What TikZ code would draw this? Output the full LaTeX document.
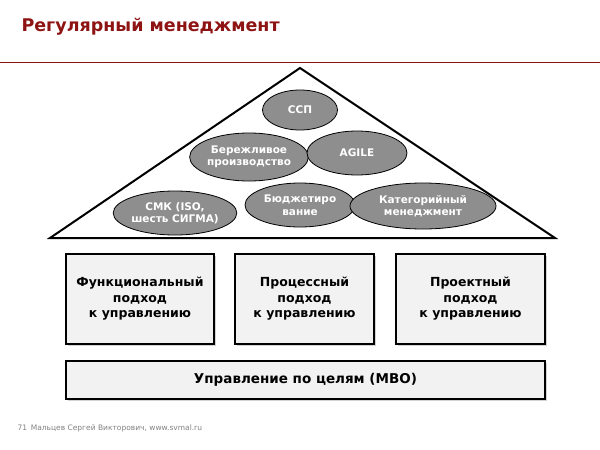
\documentclass[tikz,border=0pt]{standalone}
\usepackage{fontspec}
\setmainfont{DejaVu Sans}
\usetikzlibrary{shapes.geometric,shadows}
\definecolor{title_red}{HTML}{8E1414}
\definecolor{oval_gray}{HTML}{8E8E8E}
\definecolor{box_fill}{HTML}{F2F2F2}
\tikzset{
  oval/.style={ellipse,draw=black,thick,fill=oval_gray,text=white,
    font=\bfseries\fontsize{10.5}{12.5}\selectfont,align=center,inner sep=0pt},
  approach/.style={draw=black,line width=2.5pt,fill=box_fill,align=center,
    font=\bfseries\fontsize{12.5}{15.5}\selectfont,drop shadow={opacity=0.35,shadow xshift=1.5pt,shadow yshift=-1.5pt}}
}
\begin{document}
\begin{tikzpicture}[x=1pt,y=-1pt]
        \useasboundingbox (0,0) rectangle (600,450);
        % Заголовок
        \node[title_red,anchor=west,font=\bfseries\fontsize{17.5}{20}\selectfont] (title) at (18,27) {Регулярный менеджмент};
        \draw[title_red] (0,62) -- (600,62);
        % Треугольник
        \coordinate (apex) at (300,68);
        \coordinate (left) at (50,238);
        \coordinate (right) at (555,238);
        \draw[line width=2pt,line join=miter] (left) -- (apex) -- (right) -- cycle;
        % Инструменты
        \node[oval,minimum width=75pt,minimum height=40pt] (ssp) at (300,110) {ССП};
        \node[oval,minimum width=110pt,minimum height=48pt] (lean) at (249,157) {Бережливое\\производство};
        \node[oval,minimum width=100pt,minimum height=44pt] (agile) at (357,153) {AGILE};
        \node[oval,minimum width=118pt,minimum height=44pt] (smk) at (175,213) {СМК (ISO,\\шесть СИГМА)};
        \node[oval,minimum width=110pt,minimum height=44pt] (budget) at (300,205) {Бюджетиро\\вание};
        \node[oval,minimum width=146pt,minimum height=46pt] (category) at (423,206) {Категорийный\\менеджмент};
        % Подходы
        \node[approach,minimum width=148pt,minimum height=90pt] (func) at (140,299) {Функциональный\\подход\\к управлению};
        \node[approach,minimum width=139pt,minimum height=90pt] (proc) at (304.5,299) {Процессный\\подход\\к управлению};
        \node[approach,minimum width=149pt,minimum height=90pt] (proj) at (470.5,299) {Проектный\\подход\\к управлению};
        \node[approach,minimum width=479pt,minimum height=38pt,font=\bfseries\fontsize{13.5}{16}\selectfont] (mbo) at (305.5,380) {Управление по целям (MBO)};
        % Подвал
        \node[gray,anchor=west,font=\fontsize{7.5}{9}\selectfont] (footer) at (14,428) {71\enspace Мальцев Сергей Викторович, www.svmal.ru};
\end{tikzpicture}
\end{document}
